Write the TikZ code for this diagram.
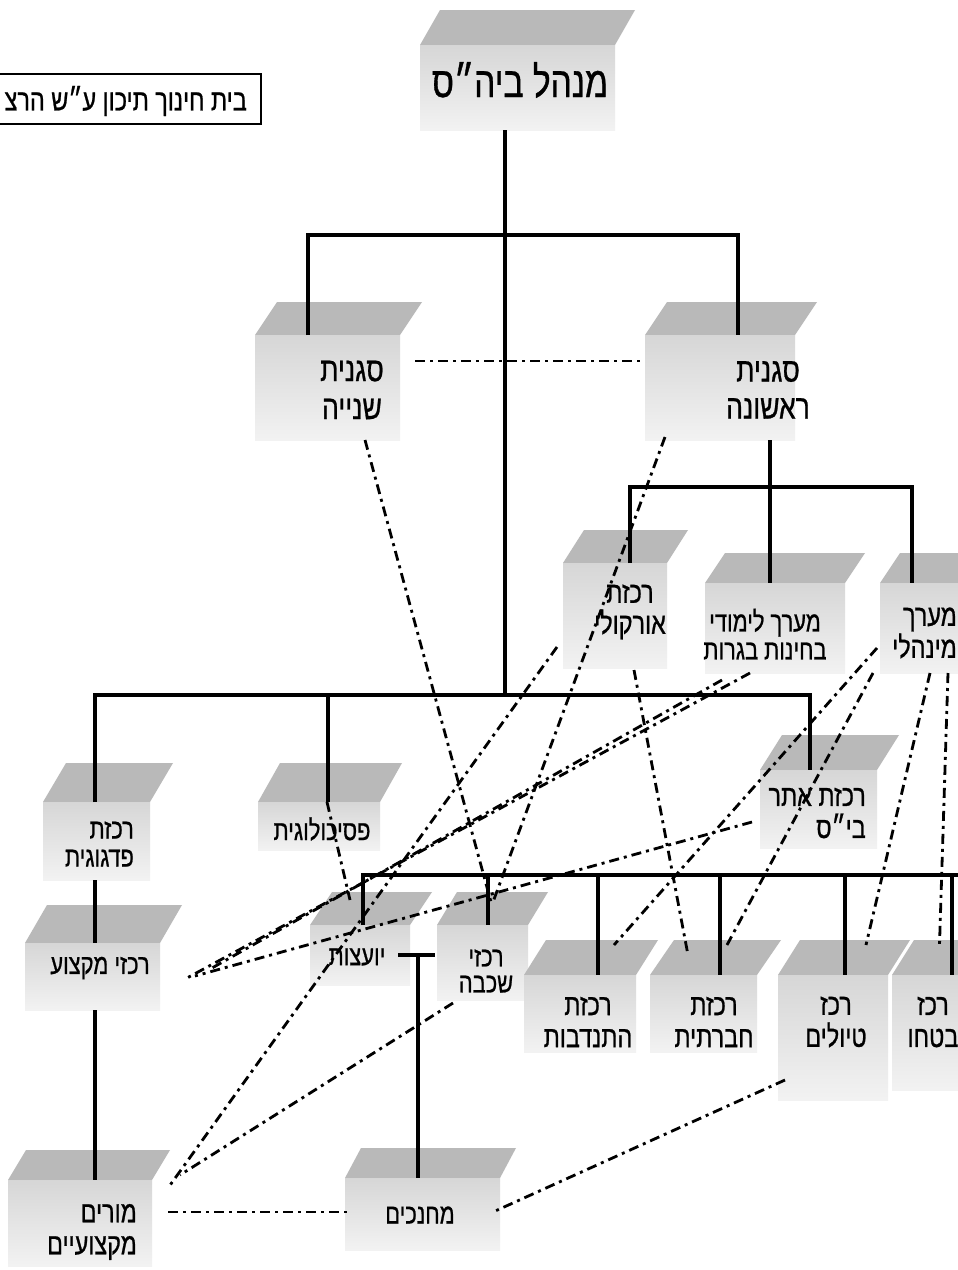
\documentclass[tikz,border=0pt]{standalone}
\usepackage{fontspec}
\TeXXeTstate=1
\newfontfamily\heb[Script=Hebrew,FakeStretch=0.78,FakeBold=0.8]{Liberation Sans}
\newcommand\hb[1]{\beginR #1\endR}
\newcommand\cube[7]{%
  \fill[topface] (#2,#3+#6) -- (#4,#3+#6) -- (#4+#7,#3) -- (#2+#7,#3) -- cycle;
  \node[front, anchor=north west, minimum width=#4-#2, minimum height=#5-#3-#6] (#1) at (#2,#3+#6) {};
}
\tikzset{
  topface/.style={fill=gray!55},
  front/.style={shape=rectangle, inner sep=0pt, outer sep=0pt, draw=none, top color=gray!32, bottom color=gray!10},
  tree/.style={line width=3.4pt, black},
  link/.style={line width=2.8pt, black, dash pattern=on 10pt off 5pt on 3pt off 5pt},
  txt/.style={font=\heb\fontsize{30}{32}\selectfont, align=center, inner sep=0pt, text=black},
}
\begin{document}
\begin{tikzpicture}[x=1pt,y=-1pt]
\useasboundingbox (0,0) rectangle (958,1270);
\fill[white] (0,0) rectangle (958,1270);

% boxes: name, x1, ytop, x2, ybottom, top depth, shift
\cube{mgr}{420}{10}{615}{130}{35}{20}
\cube{sgn2}{255}{302}{400}{440}{33}{22}
\cube{sgn1}{645}{302}{795}{440}{33}{22}
\cube{orq}{563}{530}{667}{668}{33}{21}
\cube{lim}{705}{553}{845}{673}{30}{20}
\cube{minh}{880}{553}{975}{673}{30}{20}
\cube{ped}{43}{763}{150}{880}{39}{23}
\cube{psy}{258}{763}{380}{850}{39}{22}
\cube{atar}{760}{735}{877}{848}{35}{22}
\cube{mik}{25}{905}{160}{1010}{38}{22}
\cube{yoat}{310}{892}{410}{985}{33}{22}
\cube{shk}{437}{892}{528}{1000}{33}{20}
\cube{hit}{524}{940}{636}{1052}{35}{22}
\cube{hvr}{650}{940}{757}{1052}{35}{24}
\cube{tiy}{778}{940}{888}{1100}{35}{22}
\cube{btc}{892}{940}{975}{1090}{35}{22}
\cube{mhn}{345}{1148}{500}{1250}{30}{16}
\cube{mor}{8}{1150}{152}{1266}{30}{18}

% title box at top left
\node[draw, line width=2pt, anchor=north east, minimum width=275pt, minimum height=50pt, inner sep=0pt] (lblbox) at (262,73) {};

% tree coordinates
\coordinate (j2) at (505,695);
\coordinate (b1l) at (308,235);
\coordinate (b1r) at (738,235);
\coordinate (b2c) at (770,487);
\coordinate (b2l) at (630,487);
\coordinate (b2r) at (912,487);
\coordinate (b3l) at (95,695);
\coordinate (b3p) at (328,695);
\coordinate (b3r) at (810,695);
\coordinate (b4l) at (363,875);
\coordinate (b4s) at (488,875);
\coordinate (b4h) at (598,875);
\coordinate (b4v) at (720,875);
\coordinate (b4t) at (845,875);
\coordinate (b4b) at (952,875);
\coordinate (b4r) at (962,875);
\coordinate (tm) at (418,955);

% solid tree lines
\draw[tree] (mgr.south -| j2) -- (j2);
\draw[tree] (sgn2.north -| b1l) -- (b1l) -- (b1r) -- (b1r |- sgn1.north);
\draw[tree] (sgn1.south -| b2c) -- (b2c) -- (b2c |- lim.north);
\draw[tree] (orq.north -| b2l) -- (b2l) -- (b2r) -- (b2r |- minh.north);
\draw[tree] (ped.north -| b3l) -- (b3l) -- (b3r) -- (b3r |- atar.north);
\draw[tree] (b3p) -- (b3p |- psy.north);
\draw[tree] (ped.south -| b3l) -- (mik.north -| b3l);
\draw[tree] (mik.south -| b3l) -- (mor.north -| b3l);
\draw[tree] (yoat.north -| b4l) -- (b4l) -- (b4r);
\draw[tree] (b4s) -- (b4s |- shk.north);
\draw[tree] (b4h) -- (b4h |- hit.north);
\draw[tree] (b4v) -- (b4v |- hvr.north);
\draw[tree] (b4t) -- (b4t |- tiy.north);
\draw[tree] (b4b) -- (b4b |- btc.north);
\draw[tree] ([xshift=-12pt]yoat.east) -- ([xshift=-2pt]yoat.east -| shk.west);
\draw[tree] (tm) -- (tm |- mhn.north);

% dash-dot links
\draw[link] ([xshift=15pt,yshift=26.5pt]sgn2.east) -- ([xshift=-5pt,yshift=26.5pt]sgn1.west);
\draw[link] ([xshift=37.5pt]sgn2.south) -- ([xshift=8.5pt,yshift=23pt]shk.north);
\draw[link] ([xshift=-55pt,yshift=3pt]sgn1.south) -- ([xshift=10.5pt,yshift=23pt]shk.north);
\draw[link] ([xshift=-58pt,yshift=21pt]orq.south) -- ([xshift=16pt,yshift=-8pt]mor.north east);
\draw[link] ([xshift=19pt,yshift=-2pt]orq.south) -- ([xshift=-15.5pt,yshift=20pt]hvr.north);
\draw[link] ([xshift=-25pt]lim.south) -- ([xshift=27pt,yshift=-1.5pt]mik.east);
\draw[link] ([xshift=-53pt,yshift=-7pt]lim.south) -- ([xshift=52pt,yshift=8.5pt]mik.east);
\draw[link] ([xshift=-8pt,yshift=-13pt]atar.west) -- ([xshift=35pt,yshift=0.5pt]mik.east);
\draw[link] ([xshift=-3pt,yshift=-20pt]minh.west) -- ([xshift=34pt,yshift=30pt]hit.north);
\draw[link] ([xshift=-7pt]minh.south west) -- ([xshift=23.5pt,yshift=30pt]hvr.north);
\draw[link] ([xshift=50pt]minh.south west) -- ([xshift=33pt,yshift=30pt]tiy.north);
\draw[link] ([xshift=68pt]minh.south west) -- ([xshift=6pt,yshift=30pt]btc.north);
\draw[link] ([xshift=8pt]psy.north) -- ([xshift=-10pt,yshift=25pt]yoat.north);
\draw[link] ([xshift=16pt,yshift=-3pt]shk.south west) -- ([xshift=28pt,yshift=5pt]mor.north east);
\draw[link] ([xshift=7pt,yshift=20pt]tiy.south west) -- ([xshift=-7pt,yshift=2pt]mhn.east);
\draw[link] ([xshift=16pt,yshift=11pt]mor.east) -- ([xshift=3pt,yshift=2pt]mhn.west);

% texts
\node[txt, font=\heb\fontsize{43}{46}\selectfont] (mgr-t) at (520,80) {\hb{מנהל ביה״ס}};
\node[txt, anchor=east, font=\heb\fontsize{30}{32}\selectfont] (lbl-t) at (247,101) {\hb{בית חינוך תיכון ע״ש הרצ}};
\node[txt, font=\heb\fontsize{34}{38}\selectfont] (sgn2-t) at (352,390) {\hb{סגנית}\\\hb{שנייה}};
\node[txt, font=\heb\fontsize{34}{37}\selectfont] (sgn1-t) at (768,390) {\hb{סגנית}\\\hb{ראשונה}};
\node[txt, font=\heb\fontsize{30}{31}\selectfont] (orq-t) at (630,612) {\hb{רכזת}\\\hb{אורקולי}};
\node[txt, font=\heb\fontsize{28}{28}\selectfont] (lim-t) at (765,634) {\hb{מערך לימודי}\\\hb{בחינות בגרות}};
\node[txt, anchor=east, align=right, font=\heb\fontsize{30}{32}\selectfont] (minh-t) at (957,633) {\hb{מערך}\\\hb{מינהלי}};
\node[txt, anchor=east, align=right, font=\heb\fontsize{28}{28}\selectfont] (ped-t) at (134,844) {\hb{רכזת}\\\hb{פדגוגית}};
\node[txt, font=\heb\fontsize{28}{28}\selectfont] (psy-t) at (322,829) {\hb{פסיכולוגית}};
\node[txt, anchor=east, align=right, font=\heb\fontsize{30}{32}\selectfont] (atar-t) at (866,813) {\hb{רכזת אתר}\\\hb{בי״ס}};
\node[txt, font=\heb\fontsize{28}{28}\selectfont] (mik-t) at (100,968) {\hb{רכזי מקצוע}};
\node[txt, font=\heb\fontsize{28}{28}\selectfont] (yoat-t) at (357,957) {\hb{יועצות}};
\node[txt, font=\heb\fontsize{28}{26}\selectfont] (shk-t) at (486,971) {\hb{רכזי}\\\hb{שכבה}};
\node[txt] (hit-t) at (588,1022) {\hb{רכזת}\\\hb{התנדבות}};
\node[txt] (hvr-t) at (714,1022) {\hb{רכזת}\\\hb{חברתית}};
\node[txt] (tiy-t) at (836,1022) {\hb{רכז}\\\hb{טיולים}};
\node[txt] (btc-t) at (933,1022) {\hb{רכז}\\\hb{בטחו}};
\node[txt, font=\heb\fontsize{28}{28}\selectfont] (mhn-t) at (420,1215) {\hb{מחנכים}};
\node[txt, anchor=east, align=right] (mor-t) at (137,1232) {\hb{מורים}\\\hb{מקצועיים}};
\end{tikzpicture}
\end{document}
